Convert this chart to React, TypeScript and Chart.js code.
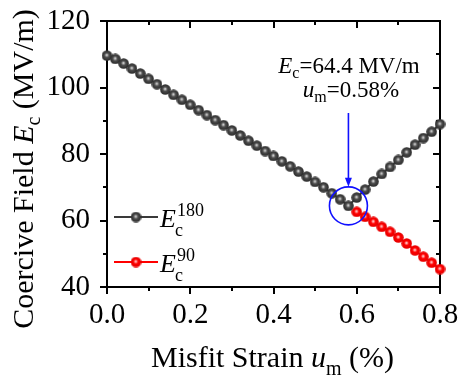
import React, { useEffect, useRef } from 'react';
import { Chart, registerables } from 'chart.js';
Chart.register(...registerables);

// ---- data ----
const strain180 = [
  0.00, 0.02, 0.04, 0.06, 0.08, 0.10, 0.12, 0.14, 0.16, 0.18,
  0.20, 0.22, 0.24, 0.26, 0.28, 0.30, 0.32, 0.34, 0.36, 0.38,
  0.40, 0.42, 0.44, 0.46, 0.48, 0.50, 0.52, 0.54, 0.56, 0.58,
  0.60, 0.62, 0.64, 0.66, 0.68, 0.70, 0.72, 0.74, 0.76, 0.78, 0.80,
];
const ec180 = [
  109.6, 108.6, 107.2, 105.7, 104.2, 102.6, 101.0, 99.4, 97.8, 96.3,
  94.8, 93.2, 91.7, 90.2, 88.7, 87.1, 85.6, 84.0, 82.5, 80.9,
  79.4, 77.8, 76.3, 74.7, 73.2, 71.6, 70.0, 68.2, 66.4, 64.4,
  66.9, 69.3, 71.7, 74.0, 76.1, 78.2, 80.5, 82.8, 84.8, 86.7, 89.0,
];
const strain90 = [0.60, 0.62, 0.64, 0.66, 0.68, 0.70, 0.72, 0.74, 0.76, 0.78, 0.80];
const ec90 = [62.6, 61.1, 59.6, 58.1, 56.6, 54.9, 53.1, 51.0, 49.1, 47.3, 45.4];

const xTickLabels = ['0.0', '0.2', '0.4', '0.6', '0.8'];
const yTickLabels = ['40', '60', '80', '100', '120'];
const xMinorTicks = [0.1, 0.3, 0.5, 0.7];
const yMinorTicks = [50, 70, 90, 110];

const minStrain = 0.58;
const minEc = 64.4;
const annotLine1 = ['E', 'c', '=64.4 MV/m'];
const annotLine2 = ['u', 'm', '=0.58%'];

const FONT = '"Liberation Serif", "Times New Roman", serif';

type Seg = { t: string; size: number; italic?: boolean; dy?: number };

function segFont(s: Seg) {
  return `${s.italic ? 'italic ' : ''}${s.size}px ${FONT}`;
}
function measureRich(ctx: CanvasRenderingContext2D, segs: Seg[]) {
  let w = 0;
  for (const s of segs) {
    ctx.font = segFont(s);
    w += ctx.measureText(s.t).width;
  }
  return w;
}
function drawRich(ctx: CanvasRenderingContext2D, x: number, y: number, segs: Seg[]) {
  let cx = x;
  for (const s of segs) {
    ctx.font = segFont(s);
    ctx.fillText(s.t, cx, y + (s.dy || 0));
    cx += ctx.measureText(s.t).width;
  }
  return cx;
}

function makeSphere(edge: string, mid: string, light: string, d: number) {
  const c = document.createElement('canvas');
  c.width = d;
  c.height = d;
  const g = c.getContext('2d')!;
  const r = d / 2;
  const grad = g.createRadialGradient(r - 0.3, r - 0.6, 0, r, r, r);
  grad.addColorStop(0, '#ffffff');
  grad.addColorStop(0.18, light);
  grad.addColorStop(0.42, mid);
  grad.addColorStop(0.85, edge);
  grad.addColorStop(1, edge);
  g.fillStyle = grad;
  g.beginPath();
  g.arc(r, r, r - 0.2, 0, Math.PI * 2);
  g.fill();
  return c;
}

let graySphere: HTMLCanvasElement | null = null;
let redSphere: HTMLCanvasElement | null = null;

const decorPlugin = {
  id: 'decor',
  beforeDatasetsDraw(chart: any) {
    const { ctx, chartArea: a, scales } = chart;
    const x = scales.x;
    const y = scales.y;
    ctx.save();
    ctx.strokeStyle = '#000';
    ctx.lineWidth = 2;
    ctx.strokeRect(a.left, a.top, a.right - a.left, a.bottom - a.top);
    const maj = 7;
    const mnr = 4;
    ctx.beginPath();
    x.ticks.forEach((t: any) => {
      const px = Math.round(x.getPixelForValue(t.value));
      ctx.moveTo(px, a.bottom);
      ctx.lineTo(px, a.bottom + maj);
      ctx.moveTo(px, a.top);
      ctx.lineTo(px, a.top + maj);
    });
    xMinorTicks.forEach((v) => {
      const px = Math.round(x.getPixelForValue(v));
      ctx.moveTo(px, a.bottom);
      ctx.lineTo(px, a.bottom + mnr);
      ctx.moveTo(px, a.top);
      ctx.lineTo(px, a.top + mnr);
    });
    y.ticks.forEach((t: any) => {
      const py = Math.round(y.getPixelForValue(t.value));
      ctx.moveTo(a.left, py);
      ctx.lineTo(a.left - maj, py);
      ctx.moveTo(a.right, py);
      ctx.lineTo(a.right - maj, py);
    });
    yMinorTicks.forEach((v) => {
      const py = Math.round(y.getPixelForValue(v));
      ctx.moveTo(a.left, py);
      ctx.lineTo(a.left - mnr, py);
      ctx.moveTo(a.right, py);
      ctx.lineTo(a.right - mnr, py);
    });
    ctx.stroke();
    ctx.restore();
  },
  afterDatasetsDraw(chart: any) {
    const { ctx, chartArea: a, scales } = chart;
    const x = scales.x;
    const y = scales.y;
    ctx.save();
    ctx.fillStyle = '#000';
    ctx.textAlign = 'left';
    ctx.textBaseline = 'alphabetic';

    // Blue circle + arrow
    const cx = x.getPixelForValue(minStrain);
    const cy = y.getPixelForValue(minEc);
    const r = 19;
    ctx.strokeStyle = '#1010ff';
    ctx.fillStyle = '#1010ff';
    ctx.lineWidth = 1.6;
    ctx.beginPath();
    ctx.arc(cx, cy, r, 0, Math.PI * 2);
    ctx.stroke();
    const tipY = cy - r;
    ctx.beginPath();
    ctx.moveTo(cx, 113);
    ctx.lineTo(cx, tipY - 7);
    ctx.stroke();
    ctx.beginPath();
    ctx.moveTo(cx, tipY);
    ctx.lineTo(cx - 3.5, tipY - 9);
    ctx.lineTo(cx + 3.5, tipY - 9);
    ctx.closePath();
    ctx.fill();

    // annotation text
    ctx.fillStyle = '#000';
    const l1: Seg[] = [
      { t: annotLine1[0], size: 23, italic: true },
      { t: annotLine1[1], size: 16, dy: 5 },
      { t: annotLine1[2], size: 23 },
    ];
    const l2: Seg[] = [
      { t: annotLine2[0], size: 23, italic: true },
      { t: annotLine2[1], size: 16, dy: 5 },
      { t: annotLine2[2], size: 23 },
    ];
    const w1 = measureRich(ctx, l1);
    drawRich(ctx, 349 - w1 / 2, 73, l1);
    const w2 = measureRich(ctx, l2);
    drawRich(ctx, 351 - w2 / 2, 97, l2);

    // legend
    const rows = [
      { yy: 217, color: '#3a3a3a', img: graySphere, sup: '180' },
      { yy: 262, color: '#ff0000', img: redSphere, sup: '90' },
    ];
    rows.forEach((row) => {
      ctx.strokeStyle = row.color;
      ctx.lineWidth = 2;
      ctx.beginPath();
      ctx.moveTo(114, row.yy);
      ctx.lineTo(158, row.yy);
      ctx.stroke();
      if (row.img) ctx.drawImage(row.img, 136 - row.img.width / 2, row.yy - row.img.height / 2);
      ctx.fillStyle = '#000';
      const base = row.yy + 10;
      ctx.font = `italic 26px ${FONT}`;
      ctx.fillText('E', 160, base);
      const ex = 160 + ctx.measureText('E').width;
      ctx.font = `18px ${FONT}`;
      ctx.fillText(row.sup, ex + 1, base - 11);
      ctx.font = `18px ${FONT}`;
      ctx.fillText('c', ex - 1, base + 9);
    });

    // axis titles
    const xt: Seg[] = [
      { t: 'Misfit Strain ', size: 30 },
      { t: 'u', size: 30, italic: true },
      { t: 'm', size: 20, dy: 8 },
      { t: ' (%)', size: 30 },
    ];
    const xw = measureRich(ctx, xt);
    drawRich(ctx, (a.left + a.right) / 2 - 1 - xw / 2, 367, xt);

    const yt: Seg[] = [
      { t: 'Coercive Field ', size: 30 },
      { t: 'E', size: 30, italic: true },
      { t: 'c', size: 20, dy: 7 },
      { t: ' (MV/m)', size: 30 },
    ];
    const yw = measureRich(ctx, yt);
    ctx.translate(33, 169);
    ctx.rotate(-Math.PI / 2);
    drawRich(ctx, -yw / 2, 0, yt);
    ctx.restore();
  },
};

export default function App() {
  const ref = useRef<HTMLCanvasElement>(null);
  useEffect(() => {
    if (!ref.current) return;
    graySphere = makeSphere('#303030', '#4c4c4c', '#a0a0a0', 11);
    redSphere = makeSphere('#e80000', '#ff0000', '#ff8a8a', 11);
    const chart = new Chart(ref.current, {
      type: 'line',
      data: {
        datasets: [
          {
            label: 'Ec180',
            data: strain180.map((v, i) => ({ x: v, y: ec180[i] })),
            borderColor: '#3a3a3a',
            borderWidth: 2,
            pointStyle: graySphere as any,
            pointRadius: 5.5,
            clip: false as any,
          },
          {
            label: 'Ec90',
            data: strain90.map((v, i) => ({ x: v, y: ec90[i] })),
            borderColor: '#ff0000',
            borderWidth: 2,
            pointStyle: redSphere as any,
            pointRadius: 5.5,
            clip: false as any,
          },
        ],
      },
      options: {
        responsive: false,
        animation: false,
        devicePixelRatio: 1,
        layout: { padding: { left: 0, right: 21, top: 21, bottom: 0 } },
        plugins: { legend: { display: false }, tooltip: { enabled: false } },
        scales: {
          x: {
            type: 'linear',
            min: 0,
            max: 0.8,
            grid: { display: false, drawTicks: false },
            border: { display: false },
            ticks: {
              stepSize: 0.2,
              color: '#000',
              padding: 11,
              font: { family: FONT, size: 29 },
              maxRotation: 0,
              autoSkip: false,
              callback: (_v: any, i: number) => xTickLabels[i],
            },
            afterFit: (s: any) => {
              s.height = 93;
              s.paddingLeft = 0;
              s.paddingRight = 0;
            },
          },
          y: {
            type: 'linear',
            min: 40,
            max: 120,
            grid: { display: false, drawTicks: false },
            border: { display: false },
            ticks: {
              stepSize: 20,
              color: '#000',
              padding: 17,
              font: { family: FONT, size: 29 },
              autoSkip: false,
              callback: (_v: any, i: number) => yTickLabels[i],
            },
            afterFit: (s: any) => {
              s.width = 107;
              s.paddingTop = 0;
              s.paddingBottom = 0;
            },
          },
        },
      },
      plugins: [decorPlugin],
    });
    return () => chart.destroy();
  }, []);
  return (
    <div style={{ position: 'absolute', left: 0, top: 0, width: 461, height: 380, background: '#fff' }}>
      <canvas ref={ref} width={461} height={380} style={{ display: 'block' }} />
    </div>
  );
}
